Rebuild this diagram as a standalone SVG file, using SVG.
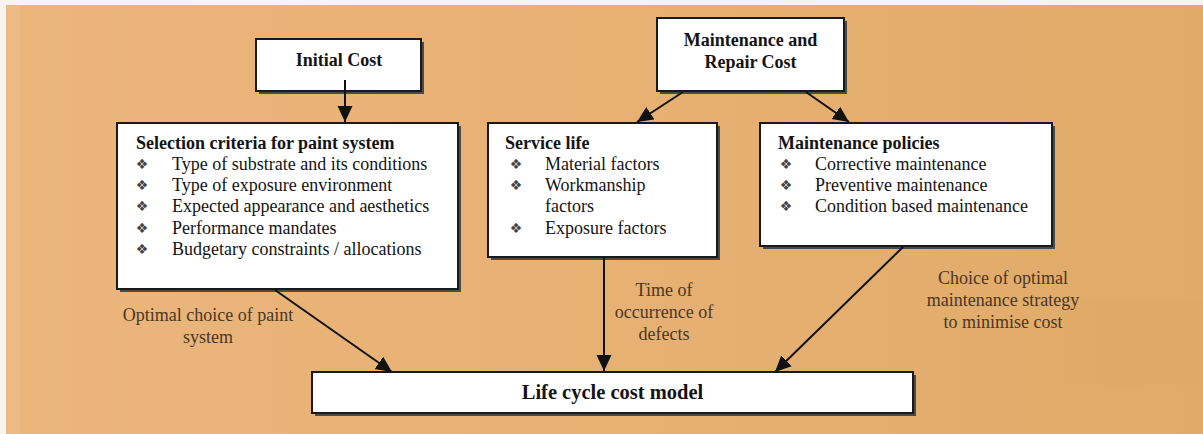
<svg xmlns="http://www.w3.org/2000/svg" width="1203" height="434" viewBox="0 0 1203 434">
<defs>
<linearGradient id="bg" x1="0" y1="0" x2="1" y2="0">
<stop offset="0" stop-color="#EBB67C"/>
<stop offset="0.5" stop-color="#E7B174"/>
<stop offset="1" stop-color="#E0AA68"/>
</linearGradient>
<marker id="ah" viewBox="0 0 16 16" refX="16" refY="8" markerWidth="16" markerHeight="16" markerUnits="userSpaceOnUse" orient="auto">
<path d="M0,0.5 L16,8 L0,15.5 z" fill="#111"/>
</marker>
</defs>
<style>
.box{fill:#fff;stroke:#1a1a1a;stroke-width:2}
.sh{fill:#4a4a4a}
.t{font-family:"Liberation Serif","Times New Roman",serif;font-size:18px;fill:#141414}
.b{font-weight:bold}
.bu{font-family:"DejaVu Sans",sans-serif;font-size:14px;fill:#444;text-anchor:middle}
.lbl{font-family:"Liberation Serif","Times New Roman",serif;font-size:18px;fill:#4a3722;text-anchor:middle}
.c{stroke:#111;stroke-width:2;fill:none;marker-end:url(#ah)}
</style>
<rect width="1203" height="434" fill="#F7F4EF"/>
<rect x="6" y="5" width="1197" height="429" fill="url(#bg)"/>
<rect x="6" y="5" width="14" height="429" fill="#EDBD86" opacity="0.7"/>
<rect x="1068" y="300" width="135" height="85" fill="#DDAA66" opacity="0.5"/>

<g id="initial-cost">
<rect class="sh" x="259" y="42" width="165" height="52"/>
<rect class="box" x="256" y="39" width="165" height="52"/>
<text class="t b" x="339" y="66" text-anchor="middle">Initial Cost</text>
</g>

<g id="maintenance-repair">
<rect class="sh" x="660" y="21" width="187" height="73"/>
<rect class="box" x="657" y="18" width="187" height="73"/>
<text class="t b" x="750.5" y="46" text-anchor="middle">Maintenance and</text>
<text class="t b" x="750.5" y="68" text-anchor="middle">Repair Cost</text>
</g>

<g id="selection-criteria">
<rect class="sh" x="120" y="126" width="341" height="166"/>
<rect class="box" x="117" y="123" width="341" height="166"/>
<text class="t b" x="136" y="149">Selection criteria for paint system</text>
<text class="bu" x="142" y="169">❖</text><text class="t" x="172" y="170">Type of substrate and its conditions</text>
<text class="bu" x="142" y="190">❖</text><text class="t" x="172" y="191">Type of exposure environment</text>
<text class="bu" x="142" y="211">❖</text><text class="t" x="172" y="212">Expected appearance and aesthetics</text>
<text class="bu" x="142" y="233">❖</text><text class="t" x="172" y="234">Performance mandates</text>
<text class="bu" x="142" y="254">❖</text><text class="t" x="172" y="255">Budgetary constraints / allocations</text>
</g>

<g id="service-life">
<rect class="sh" x="491" y="126" width="229" height="134"/>
<rect class="box" x="488" y="123" width="229" height="134"/>
<text class="t b" x="505" y="149">Service life</text>
<text class="bu" x="516" y="169">❖</text><text class="t" x="545" y="170">Material factors</text>
<text class="bu" x="516" y="190">❖</text><text class="t" x="545" y="191">Workmanship</text>
<text class="t" x="545" y="212">factors</text>
<text class="bu" x="516" y="233">❖</text><text class="t" x="545" y="234">Exposure factors</text>
</g>

<g id="maintenance-policies">
<rect class="sh" x="763" y="126" width="292" height="123"/>
<rect class="box" x="760" y="123" width="292" height="123"/>
<text class="t b" x="778" y="149">Maintenance policies</text>
<text class="bu" x="786" y="169">❖</text><text class="t" x="815" y="170">Corrective maintenance</text>
<text class="bu" x="786" y="190">❖</text><text class="t" x="815" y="191">Preventive maintenance</text>
<text class="bu" x="786" y="211">❖</text><text class="t" x="815" y="212">Condition based maintenance</text>
</g>

<g id="life-cycle-cost-model">
<rect class="sh" x="315" y="375" width="601" height="41"/>
<rect class="box" x="312" y="372" width="601" height="41"/>
<text class="t b" x="612.5" y="399" text-anchor="middle" style="font-size:20.5px">Life cycle cost model</text>
</g>

<g id="connectors">
<line class="c" x1="345" y1="80" x2="345" y2="122"/>
<line class="c" x1="683" y1="92" x2="637" y2="122"/>
<line class="c" x1="806" y1="92" x2="849" y2="122"/>
<line class="c" x1="275" y1="290" x2="392" y2="372"/>
<line class="c" x1="604" y1="258" x2="604" y2="371"/>
<line class="c" x1="903" y1="247" x2="775" y2="372"/>
</g>

<g id="labels">
<text class="lbl" x="208" y="321">Optimal choice of paint</text>
<text class="lbl" x="208" y="343">system</text>
<text class="lbl" x="664" y="296">Time of</text>
<text class="lbl" x="664" y="318">occurrence of</text>
<text class="lbl" x="664" y="340">defects</text>
<text class="lbl" x="1003" y="284">Choice of optimal</text>
<text class="lbl" x="1003" y="306">maintenance strategy</text>
<text class="lbl" x="1003" y="328">to minimise cost</text>
</g>
</svg>
